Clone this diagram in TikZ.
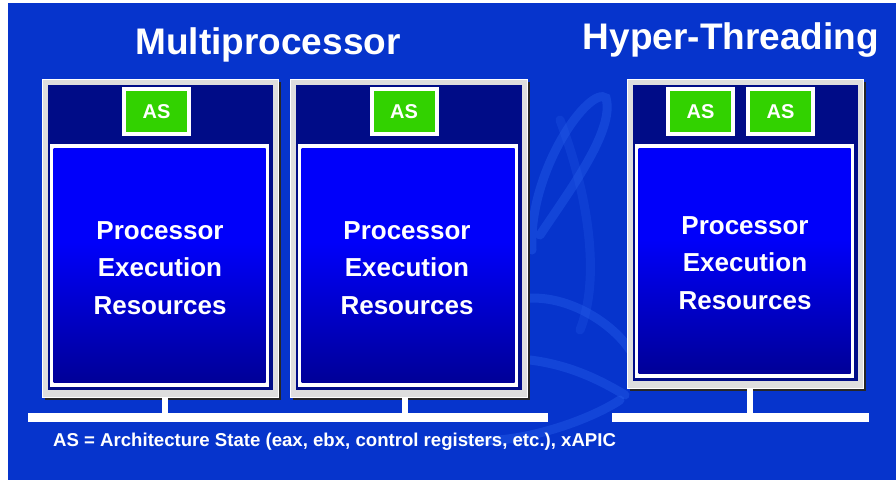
\documentclass[tikz,border=0pt]{standalone}
\usepackage{fontspec}
\setmainfont{Liberation Sans}
\definecolor{bg}{RGB}{6,52,204}
\definecolor{navy}{RGB}{0,12,135}
\definecolor{brightblue}{RGB}{0,0,250}
\definecolor{deepblue}{RGB}{0,0,135}
\definecolor{deepblue2}{RGB}{0,0,105}
\definecolor{framegray}{RGB}{222,222,222}
\definecolor{asgreen}{RGB}{50,210,0}
\definecolor{swirl}{RGB}{40,95,235}
\pgfdeclareverticalshading{procshade}{100bp}{color(0bp)=(deepblue2); color(20bp)=(deepblue); color(55bp)=(brightblue); color(100bp)=(brightblue)}
\tikzset{
  procframe/.style={draw=white, line width=1pt, fill=framegray, inner sep=0pt},
  asbox/.style={draw=white, line width=4pt, fill=asgreen, inner sep=0pt,
    minimum width=65pt, minimum height=45pt, text=white,
    font=\bfseries\fontsize{20}{22}\selectfont},
  bus/.style={white, line width=9pt},
  stem/.style={white, line width=6pt},
  title/.style={text=white, font=\bfseries\fontsize{37}{40}\selectfont, inner sep=0pt},
  restext/.style={align=center, text=white, font=\bfseries\fontsize{26}{37.5}\selectfont, inner sep=0pt},
  note/.style={text=white, font=\bfseries\fontsize{18.6}{20}\selectfont, inner sep=0pt},
  swirlline/.style={swirl, line width=9pt, opacity=0.4, line cap=round}
}
\begin{document}
\begin{tikzpicture}[x=1pt,y=-1pt]
\useasboundingbox (0,0) rectangle (896,480);
\fill[white] (0,0) rectangle (896,480);
\fill[bg] (8,3) rectangle (896,480);
% faint background swirl
\draw[swirlline] (532,250) .. controls (528,170) and (590,85) .. (606,98) .. controls (615,130) and (570,190) .. (540,235);
\draw[swirlline] (515,300) .. controls (560,290) and (610,320) .. (630,350);
\draw[swirlline] (530,360) .. controls (570,365) and (600,380) .. (625,395);
\draw[swirlline] (470,440) .. controls (520,445) and (590,420) .. (620,400);
\draw[swirlline, opacity=0.25] (560,120) .. controls (590,200) and (600,280) .. (580,330);

% processor frames
\foreach \n/\cx/\cy/\w/\h in {p1/160/238/236/318, p2/408.5/238/237/318, p3/745/233.5/236/309}{
  \fill[black!85] (\cx-\w/2+3,\cy-\h/2+3) rectangle (\cx+\w/2+3,\cy+\h/2+3);
  \node[procframe, minimum width=\w pt, minimum height=\h pt] (\n) at (\cx,\cy) {};
  \fill[navy] ([shift={(6,6)}]\n.north west) rectangle ([shift={(-6,-8)}]\n.south east);
  \fill[white] ([shift={(8,65)}]\n.north west) rectangle ([shift={(-10,-11)}]\n.south east);
  \shade[shading=procshade] ([shift={(12,70)}]\n.north west) rectangle ([shift={(-13,-15)}]\n.south east);
}

% AS boxes
\node[asbox] (as1) at (156.5,111.5) {AS};
\node[asbox] (as2) at (404,111.5) {AS};
\node[asbox] (as3) at (700.5,111.5) {AS};
\node[asbox] (as4) at (780.5,111.5) {AS};

% resource texts
\node[restext] (r1) at (160,268) {Processor\\Execution\\Resources};
\node[restext] (r2) at (407,268) {Processor\\Execution\\Resources};
\node[restext] (r3) at (745,263) {Processor\\Execution\\Resources};

% titles
\node[title] (t1) at (268,45) {Multiprocessor};
\node[title] (t2) at (731,40) {Hyper-Threading};

% buses
\coordinate (bl1) at (28,417.5);
\coordinate (br1) at (548,417.5);
\coordinate (bl2) at (612,417.5);
\coordinate (br2) at (869,417.5);
\coordinate (s1) at (165,417.5);
\coordinate (s2) at (405,417.5);
\coordinate (s3) at (750,417.5);
\draw[bus] (bl1) -- (br1);
\draw[bus] (bl2) -- (br2);
\draw[stem] (p1.south -| s1) -- (s1);
\draw[stem] (p2.south -| s2) -- (s2);
\draw[stem] (p3.south -| s3) -- (s3);

% footnote
\node[note, anchor=west] (fn) at (53,442) {AS = Architecture State (eax, ebx, control registers, etc.), xAPIC};
\end{tikzpicture}
\end{document}
